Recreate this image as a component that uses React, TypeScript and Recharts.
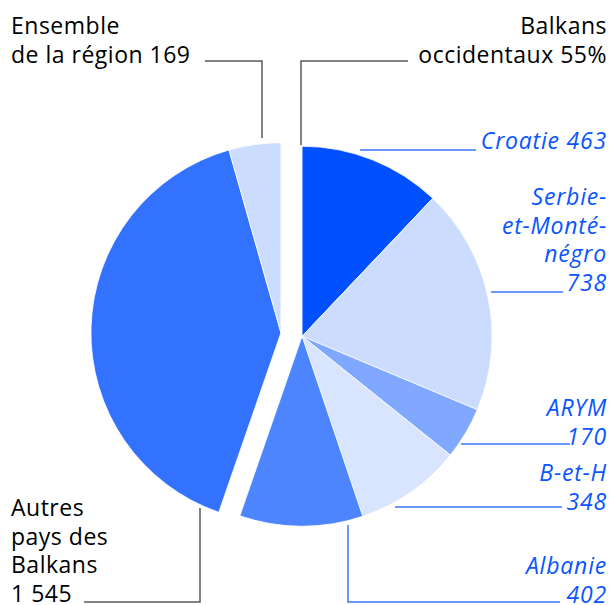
import React from 'react';
import { PieChart, Pie, Cell } from 'recharts';

// ---- data ----
const westNames = ['Croatie', 'Serbie-et-Monténégro', 'ARYM', 'B-et-H', 'Albanie'];
const westValues = [463, 738, 170, 348, 402];
const westColors = ['#0050FF', '#CCDCFF', '#80A8FF', '#D9E4FF', '#4D85FF'];
const westLabelLines = [['Croatie'], ['Serbie-', 'et-Monté-', 'négro'], ['ARYM'], ['B-et-H'], ['Albanie']];

const otherNames = ['Autres pays des Balkans', 'Ensemble de la région'];
const otherValues = [1545, 169];
const otherColors = ['#3371FF', '#CCDCFF'];
const otherLabelLines = [['Autres', 'pays des', 'Balkans'], ['Ensemble', 'de la région']];

const groupTitle = ['Balkans', 'occidentaux'];

// ---- layout (annotation placement only) ----
const W = 614;
const H = 605;
const R = 190;
const MID_X = 291.5;
const MID_Y = 334.5;
const EXPLODE = 10.7;
const LH = 28.7;
const FONT = '"Open Sans", "Noto Sans", sans-serif';
const FS = 23;
const BLUE_TEXT = '#0A55FF';
const BLUE_LINE = '#3D75FF';
const GREY_LINE = '#5a5a5a';

const westLayout = [
  { x: 607, anchor: 'end', y: 149, inline: true, path: [[360, 150], [476, 150]] },
  { x: 607, anchor: 'end', y: 205, inline: false, path: [[491, 292], [563, 292]] },
  { x: 607, anchor: 'end', y: 416, inline: false, path: [[461, 444], [570, 444]] },
  { x: 607, anchor: 'end', y: 481, inline: false, path: [[395, 507], [562, 507]] },
  { x: 607, anchor: 'end', y: 574, inline: false, path: [[348, 525], [348, 602], [560, 602]] },
];
const otherLayout = [
  { x: 11, anchor: 'start', y: 516, inline: false, path: [[200, 508], [200, 602], [84, 602]] },
  { x: 11, anchor: 'start', y: 34, inline: true, path: [[205, 61], [262, 61], [262, 138]] },
];
const titleLayout = { x: 607, anchor: 'end', y: 34, path: [[408, 61], [301, 61], [301, 145]] };

const fmt = (v: number) => String(v).replace(/\B(?=(\d{3})+(?!\d))/g, ' ');

const westData = westNames.map((name, i) => ({ name, value: westValues[i] }));
const otherData = otherNames.map((name, i) => ({ name, value: otherValues[i] }));

const westSum = westValues.reduce((a, b) => a + b, 0);
const otherSum = otherValues.reduce((a, b) => a + b, 0);
const total = westSum + otherSum;
const westSpan = (360 * westSum) / total;
const westPct = Math.round((100 * westSum) / total);

const rad = Math.PI / 180;
const westMid = (90 - westSpan / 2) * rad;
const otherMid = (90 - westSpan - (360 - westSpan) / 2) * rad;
const westCx = MID_X + EXPLODE * Math.cos(westMid);
const westCy = MID_Y - EXPLODE * Math.sin(westMid);
const otherCx = MID_X + EXPLODE * Math.cos(otherMid);
const otherCy = MID_Y - EXPLODE * Math.sin(otherMid);

const pts = (p: number[][]) => p.map((q) => q.join(',')).join(' ');

function Block({ lines, x, y, anchor, color, italic }: any) {
  return (
    <text
      x={x}
      y={y}
      textAnchor={anchor}
      fill={color}
      fontFamily={FONT}
      fontSize={FS}
      fontStyle={italic ? 'italic' : 'normal'}
      letterSpacing={italic ? 0.8 : 0.5}
    >
      {lines.map((l: string, i: number) => (
        <tspan key={i} x={x} y={y + i * LH}>
          {l}
        </tspan>
      ))}
    </text>
  );
}

const westLabel = (props: any) => {
  const i = props.index;
  const L = westLayout[i];
  const base = westLabelLines[i];
  const lines = L.inline
    ? [...base.slice(0, -1), `${base[base.length - 1]} ${fmt(westValues[i])}`]
    : [...base, fmt(westValues[i])];
  return (
    <g key={`wl-${i}`}>
      <polyline points={pts(L.path)} fill="none" stroke={BLUE_LINE} strokeWidth={1.5} />
      <Block lines={lines} x={L.x} y={L.y} anchor={L.anchor} color={BLUE_TEXT} italic />
      {i === 0 && (
        <g>
          <polyline points={pts(titleLayout.path)} fill="none" stroke={GREY_LINE} strokeWidth={1.5} />
          <Block
            lines={[groupTitle[0], `${groupTitle[1]} ${westPct}%`]}
            x={titleLayout.x}
            y={titleLayout.y}
            anchor={titleLayout.anchor}
            color="#000"
          />
        </g>
      )}
    </g>
  );
};

const otherLabel = (props: any) => {
  const i = props.index;
  const L = otherLayout[i];
  const base = otherLabelLines[i];
  const lines = L.inline
    ? [...base.slice(0, -1), `${base[base.length - 1]} ${fmt(otherValues[i])}`]
    : [...base, fmt(otherValues[i])];
  return (
    <g key={`ol-${i}`}>
      <polyline points={pts(L.path)} fill="none" stroke={GREY_LINE} strokeWidth={1.5} />
      <Block lines={lines} x={L.x} y={L.y} anchor={L.anchor} color="#000" />
    </g>
  );
};

export default function App() {
  return (
    <div style={{ position: 'absolute', left: 0, top: 0, width: W, height: H, background: '#fff' }}>
      <PieChart width={W} height={H} margin={{ top: 0, right: 0, bottom: 0, left: 0 }}>
        <Pie
          data={westData}
          dataKey="value"
          nameKey="name"
          cx={westCx}
          cy={westCy}
          outerRadius={R}
          innerRadius={0}
          startAngle={90}
          endAngle={90 - westSpan}
          stroke="#fff"
          strokeWidth={0.8}
          isAnimationActive={false}
          label={westLabel}
          labelLine={false}
        >
          {westData.map((d, i) => (
            <Cell key={d.name} fill={westColors[i]} />
          ))}
        </Pie>
        <Pie
          data={otherData}
          dataKey="value"
          nameKey="name"
          cx={otherCx}
          cy={otherCy}
          outerRadius={R}
          innerRadius={0}
          startAngle={90 - westSpan}
          endAngle={-270}
          stroke="#fff"
          strokeWidth={0.8}
          isAnimationActive={false}
          label={otherLabel}
          labelLine={false}
        >
          {otherData.map((d, i) => (
            <Cell key={d.name} fill={otherColors[i]} />
          ))}
        </Pie>
      </PieChart>
    </div>
  );
}
